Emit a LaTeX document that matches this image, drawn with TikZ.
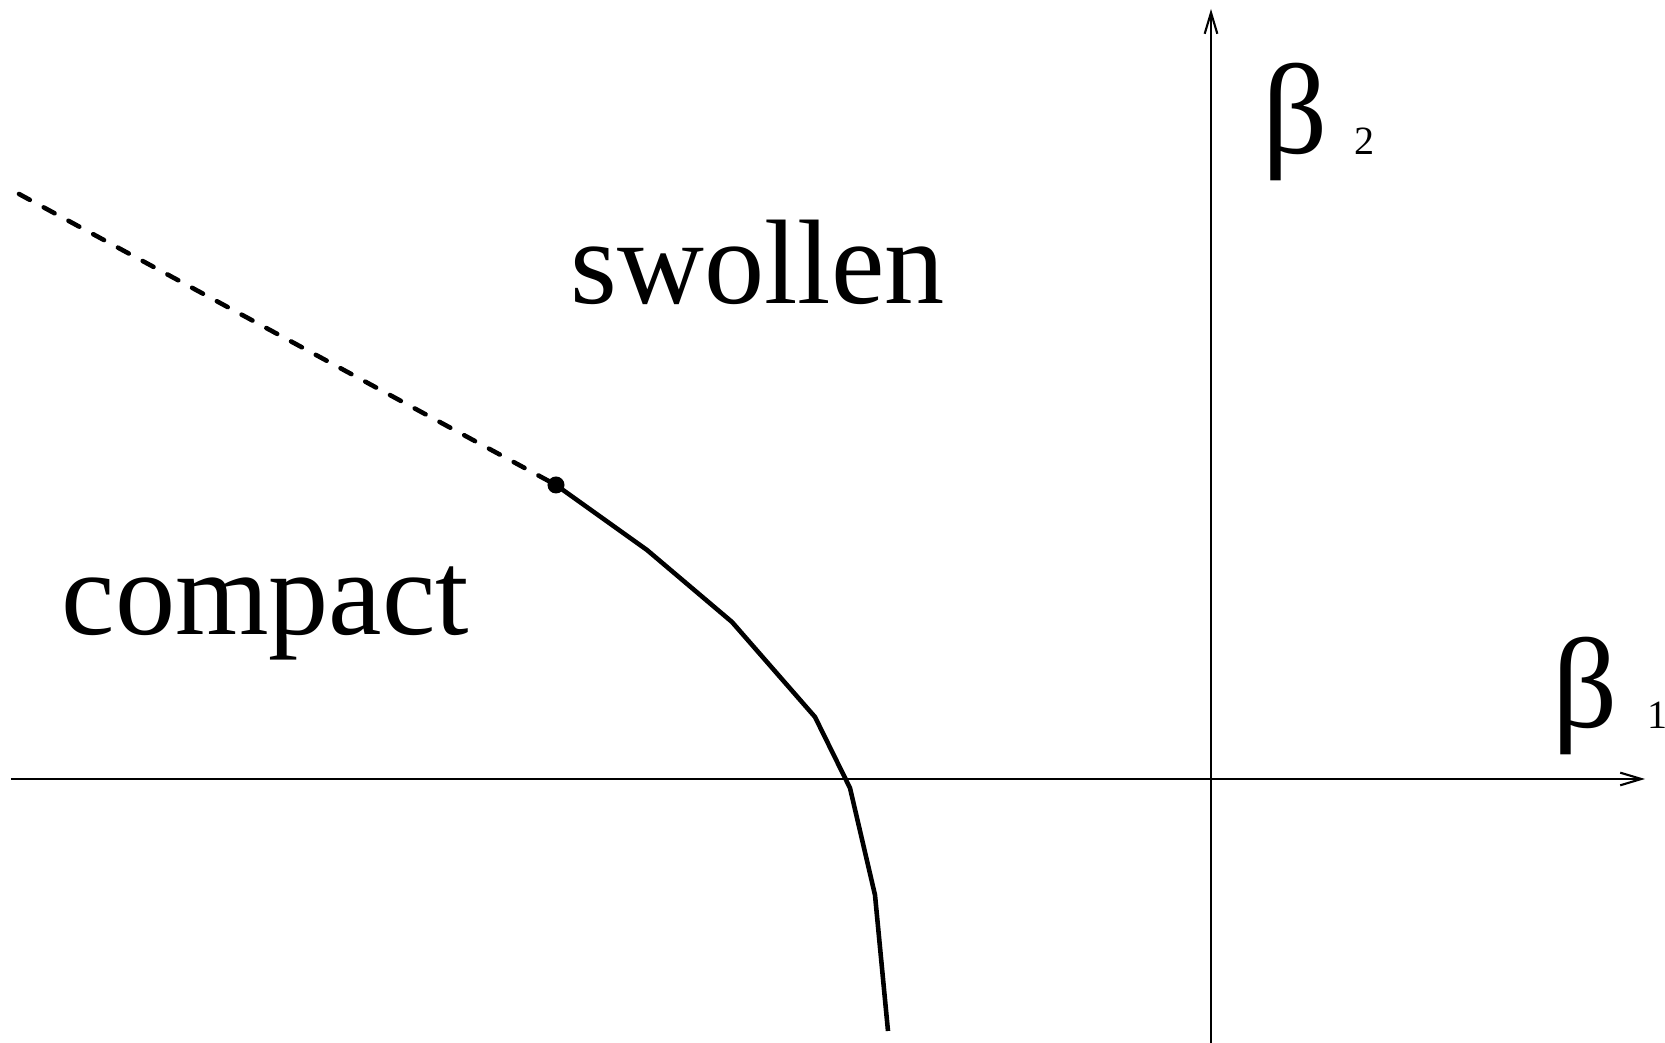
\documentclass[tikz,border=0pt]{standalone}
\usepackage{fontspec}
\setmainfont{Liberation Serif}
\usetikzlibrary{arrows.meta}

\begin{document}
\begin{tikzpicture}[x=0.01cm, y=-0.01cm,
    >={Straight Barb[length=6pt,width=3.6pt]},
    axis/.style={line width=0.6pt},
    phase/.style={line width=1.3pt, line join=round},
    region/.style={inner sep=0pt, anchor=base west, font=\fontsize{34.2}{40}\selectfont},
    coupling/.style={inner sep=0pt, anchor=base west, font=\fontsize{36.5}{42}\selectfont},
    index/.style={inner sep=0pt, anchor=base west, font=\fontsize{11.4}{14}\selectfont}]
        \useasboundingbox (0,0) rectangle (1665,1043);
        % axes
        \coordinate (xl) at (11,779);
        \coordinate (xr) at (1645,779);
        \coordinate (yb) at (1211,1043);
        \coordinate (yt) at (1211,9);
        \draw[axis,->] (xl) -- (xr);
        \draw[axis,->] (yb) -- (yt);
        \node[coupling] (b1) at (1552,728) {β};
        \node[index] (b1i) at (1647,729) {1};
        \node[coupling] (b2) at (1262,154) {β};
        \node[index] (b2i) at (1354,155) {2};
        % regions
        \node[region] (swollen) at (570,304) {swollen};
        \node[region] (compact) at (61,635) {compact};
        % first order line, ending in the critical point
        \coordinate (far) at (19,194);
        \coordinate (crit) at (556,485);
        \draw[phase, line cap=round, dash pattern=on 3.5pt off 4.5pt] (far) -- (crit);
        \fill (crit) circle[radius=0.85mm];
        % second order line
        \draw[phase] (crit) -- (647,550) -- (732,622) -- (815,717)
          -- (850,788) -- (875,895) -- (888,1031);
\end{tikzpicture}
\end{document}
